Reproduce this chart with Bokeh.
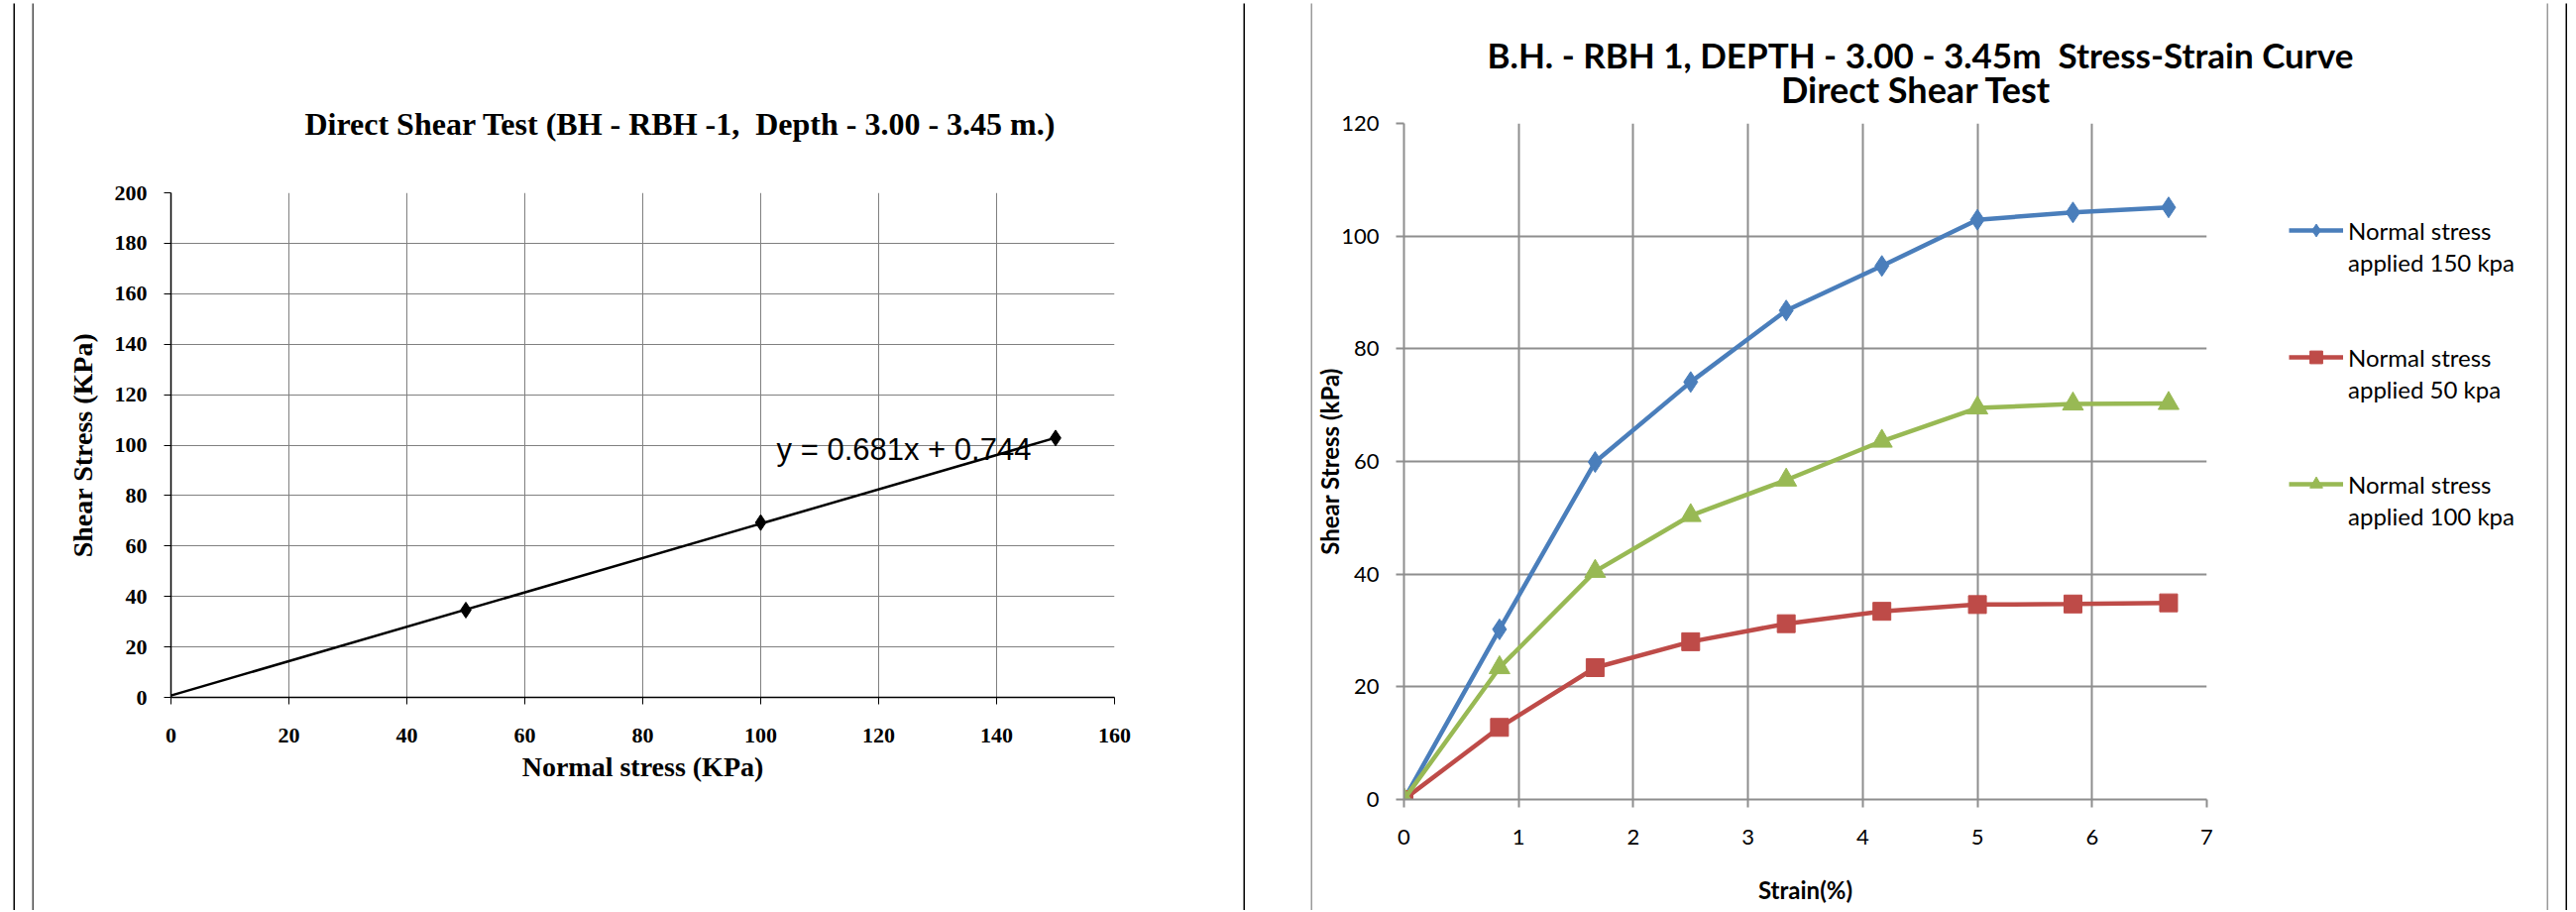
from bokeh.plotting import figure
from bokeh.models import Range1d, FixedTicker, Label, Legend, LegendItem, Spacer
from bokeh.layouts import row, column
from bokeh.embed import file_html
from bokeh.resources import INLINE

# ---------------- data: left chart (failure envelope) ----------------
normal_stress = [50, 100, 150]
shear_stress = [34.6, 69.3, 102.8]
trend_slope = 0.681
trend_intercept = 0.744
trend_x = [0, 150]
left_xticks = [0, 20, 40, 60, 80, 100, 120, 140, 160]
left_yticks = [0, 20, 40, 60, 80, 100, 120, 140, 160, 180, 200]
eq_pos = (102.7, 98.2)
left_title = "Direct Shear Test (BH - RBH -1,\u00a0 Depth - 3.00 - 3.45 m.)"

# ---------------- data: right chart (stress-strain) ----------------
strain = [0, 0.833, 1.667, 2.5, 3.333, 4.167, 5.0, 5.833, 6.667]
shear_150 = [0, 30.2, 59.9, 74.1, 86.8, 94.7, 102.9, 104.2, 105.1]
shear_50 = [0, 12.8, 23.4, 28.0, 31.2, 33.4, 34.6, 34.7, 34.9]
shear_100 = [0, 23.4, 40.5, 50.4, 56.7, 63.6, 69.5, 70.2, 70.3]
series_labels = [("Normal stress", "applied 150 kpa"),
                 ("Normal stress", "applied 50 kpa"),
                 ("Normal stress", "applied 100 kpa")]
right_xticks = [0, 1, 2, 3, 4, 5, 6, 7]
right_yticks = [0, 20, 40, 60, 80, 100, 120]
right_title = ["B.H. - RBH 1, DEPTH - 3.00 - 3.45m\u00a0 Stress-Strain Curve", "Direct Shear Test"]

SERIF = "Liberation Serif"
SANS = "Lato"
BLACK = "#000000"
LDARK = "#4d4d4d"
RGRAY = "#9a9a9a"


def blank(w, h, color="white", **kw):
    f = figure(width=w, height=h, toolbar_location=None, output_backend="svg",
               x_axis_location=None, y_axis_location=None,
               background_fill_color=color, border_fill_color=color,
               outline_line_color=None, **kw)
    f.grid.visible = False
    return f


def bar(w, h, color):
    return blank(w, h, color, min_border=0, x_range=(0, 1), y_range=(0, 1))


# ---------------- left chart ----------------
LW, LTH, LCH = 1220, 150, 765
ltitle = blank(LW, LTH, min_border_left=138, min_border_right=130, min_border_top=0,
               min_border_bottom=0, x_range=Range1d(0, 952), y_range=Range1d(0, LTH))
ltitle.add_layout(Label(x=514, y=29, text=left_title, text_font=SERIF, text_font_style="bold",
                        text_font_size="32px", text_color=BLACK, text_align="center",
                        text_baseline="middle"))

lp = figure(width=LW, height=LCH, x_range=Range1d(0, 160), y_range=Range1d(0, 200),
            min_border_left=138, min_border_right=130, min_border_top=41, min_border_bottom=215,
            toolbar_location=None, output_backend="svg", outline_line_color=None)
lp.xaxis.ticker = FixedTicker(ticks=left_xticks)
lp.yaxis.ticker = FixedTicker(ticks=left_yticks)
lp.xgrid.ticker = FixedTicker(ticks=left_xticks)
lp.ygrid.ticker = FixedTicker(ticks=left_yticks)
lp.grid.grid_line_color = "#808080"
lp.grid.grid_line_width = 1
for ax in (lp.xaxis, lp.yaxis):
    ax.axis_line_color = BLACK
    ax.axis_line_width = 1.5
    ax.major_tick_line_color = BLACK
    ax.major_tick_in = 0
    ax.major_tick_out = 7
    ax.minor_tick_line_color = None
    ax.major_label_text_font = SERIF
    ax.major_label_text_font_style = "bold"
    ax.major_label_text_font_size = "22px"
    ax.major_label_text_color = BLACK
    ax.axis_label_text_font = SERIF
    ax.axis_label_text_font_style = "bold"
    ax.axis_label_text_font_size = "28px"
    ax.axis_label_text_color = BLACK
lp.xaxis.major_label_standoff = 24
lp.yaxis.major_label_standoff = 17
lp.xaxis.axis_label = "Normal stress (KPa)"
lp.yaxis.axis_label = "Shear Stress (KPa)"
lp.xaxis.axis_label_standoff = 6
lp.yaxis.axis_label_standoff = 14

trend_y = [trend_slope * x + trend_intercept for x in trend_x]
lp.line(trend_x, trend_y, line_color=BLACK, line_width=2.5)
lp.scatter(normal_stress, shear_stress, marker="diamond", size=16, color=BLACK)
lp.add_layout(Label(x=eq_pos[0], y=eq_pos[1], text=f"y = {trend_slope}x + {trend_intercept}",
                    text_font="Liberation Sans", text_font_size="31px", text_color=BLACK,
                    text_baseline="alphabetic", text_align="left"))

# ---------------- right chart ----------------
RW, RTH, RCH = 1245, 108, 807
RPW, RLW = 936, 309
rtitle = blank(RW, RTH, min_border=0, x_range=Range1d(0, RW), y_range=Range1d(0, RTH))
rtitle.add_layout(Label(x=613, y=57, text=right_title[0], text_font=SANS, text_font_style="bold",
                        text_font_size="35px", text_color=BLACK, text_align="center",
                        text_baseline="middle"))
rtitle.add_layout(Label(x=609, y=22, text=right_title[1], text_font=SANS, text_font_style="bold",
                        text_font_size="36px", text_color=BLACK, text_align="center",
                        text_baseline="middle"))

rp = figure(width=RPW, height=RCH, x_range=Range1d(0, 7), y_range=Range1d(0, 120),
            min_border_left=92, min_border_right=34, min_border_top=13, min_border_bottom=112,
            toolbar_location=None, output_backend="svg", outline_line_color=None)
rp.xaxis.ticker = FixedTicker(ticks=right_xticks)
rp.yaxis.ticker = FixedTicker(ticks=right_yticks)
rp.xgrid.ticker = FixedTicker(ticks=right_xticks)
rp.ygrid.ticker = FixedTicker(ticks=right_yticks)
rp.grid.grid_line_color = "#8e8e8e"
rp.grid.grid_line_width = 2
for ax in (rp.xaxis, rp.yaxis):
    ax.axis_line_color = "#8e8e8e"
    ax.axis_line_width = 2
    ax.major_tick_line_color = "#8e8e8e"
    ax.major_tick_line_width = 2
    ax.major_tick_in = 0
    ax.major_tick_out = 8
    ax.minor_tick_line_color = None
    ax.major_label_text_font = SANS
    ax.major_label_text_font_size = "22px"
    ax.major_label_text_color = BLACK
    ax.axis_label_text_font = SANS
    ax.axis_label_text_font_style = "bold"
    ax.axis_label_text_font_size = "24px"
    ax.axis_label_text_color = BLACK
rp.xaxis.major_label_standoff = 22
rp.yaxis.major_label_standoff = 17
rp.xaxis.axis_label = "Strain(%)"
rp.yaxis.axis_label = "Shear Stress (kPa)"
rp.xaxis.axis_label_standoff = 28
rp.yaxis.axis_label_standoff = -6

styles = [(shear_150, "#4a7ebb", "diamond", 21),
          (shear_50, "#be4b48", "square", 18),
          (shear_100, "#98b954", "triangle", 21)]

# legend panel (its own canvas next to the plot); its renderers hold the same
# series but its ranges keep them out of view, so only the legend swatches show
rleg = blank(RLW, RCH, min_border_left=0, min_border_right=0, min_border_top=13,
             min_border_bottom=112, x_range=Range1d(-20, -19), y_range=Range1d(-20, -19))
items = []
for k, (vals, col, mk, sz) in enumerate(styles):
    rp.line(strain, vals, line_color=col, line_width=4.5)
    rp.scatter(strain, vals, marker=mk, size=sz, color=col)
    lr = rleg.line(strain, vals, line_color=col, line_width=4.5)
    sr = rleg.scatter(strain, vals, marker=mk, size=sz, color=col)
    blank_r = rleg.line(strain, vals, line_alpha=0)
    items.append(LegendItem(label=series_labels[k][0], renderers=[lr, sr]))
    items.append(LegendItem(label=series_labels[k][1], renderers=[blank_r]))
    if k < 2:
        items.append(LegendItem(label=" ", renderers=[blank_r]))
        items.append(LegendItem(label="  ", renderers=[blank_r]))
legend = Legend(items=items, location=(49, 270), glyph_width=55, glyph_height=32,
                label_height=32, label_standoff=5, spacing=0, padding=0, margin=0,
                border_line_color=None, background_fill_alpha=0,
                label_text_font=SANS, label_text_font_size="24px", label_text_color=BLACK)
rleg.add_layout(legend)

left_col = column([ltitle, lp])
right_col = column([rtitle, row([rp, rleg])])

# ---------------- page frame ----------------
H = 915
mid = row([bar(2, H, BLACK), Spacer(width=17, height=H), bar(2, H, LDARK), left_col,
           bar(2, H, BLACK), Spacer(width=66, height=H), bar(2, H, RGRAY), right_col,
           bar(2, H, RGRAY), Spacer(width=17, height=H), bar(2, H, BLACK)])
top = row([bar(1311, 2, BLACK), bar(1245, 2, RGRAY), bar(21, 2, BLACK)])
bottom = row([bar(21, 2, BLACK), bar(1220, 2, LDARK), bar(70, 2, BLACK),
              bar(1245, 2, RGRAY), bar(21, 2, BLACK)])
page = column([
    Spacer(width=2599, height=1),
    row([Spacer(width=13, height=2), top, Spacer(width=9, height=2)]),
    row([Spacer(width=13, height=H), mid, Spacer(width=9, height=H)]),
    row([Spacer(width=13, height=2), bottom, Spacer(width=9, height=2)]),
])

open("out.html", "w").write(file_html(page, INLINE))
